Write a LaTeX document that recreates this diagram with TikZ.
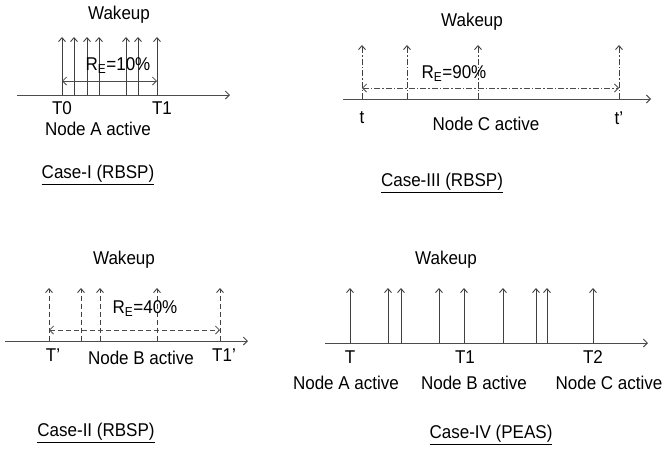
\documentclass[tikz,border=0pt]{standalone}
\usepackage{fontspec}
\setmainfont[FakeStretch=0.92]{Liberation Sans}
\usetikzlibrary{arrows.meta,positioning}

\begin{document}
\begin{tikzpicture}[x=1pt,y=-1pt,
    lbl/.style={font=\fontsize{18.5}{20}\selectfont,inner sep=0pt},
    caselbl/.style={lbl},
    axis/.style={draw=black!70,line width=0.9pt,-{Straight Barb[length=4pt,width=8pt]}},
    wake/.style={draw=black!75,line width=0.9pt,-{Straight Barb[length=4pt,width=7pt]}},
    span/.style={draw=black!70,line width=0.8pt,{Straight Barb[length=4pt,width=8pt]}-{Straight Barb[length=4pt,width=8pt]}},
    dashB/.style={dash pattern=on 5pt off 3pt},
    dashC/.style={dash pattern=on 6pt off 2pt on 1.5pt off 2pt}]
    \useasboundingbox (0,0) rectangle (670,456);

    % Case-I
    \coordinate (axisA-s) at (17,95);
    \coordinate (axisA-e) at (230,95);
    \draw[axis] (axisA-s) -- (axisA-e);
    \foreach \x [count=\i] in {62,74,87,99,126,138,157} {
        \coordinate (wA-\i) at (\x,95);
        \coordinate (wA-\i-top) at (\x,37);
        \draw[wake] (wA-\i) -- (wA-\i-top);
    }
    \coordinate (spanA-s) at (62,81);
    \coordinate (spanA-e) at (157,81);
    \draw[span] (spanA-s) -- (spanA-e);
    \node[lbl] (wakeA) at (119,15) {Wakeup};
    \node[lbl] (reA) at (118,66) {R\textsubscript{E}=10\%};
    \node[lbl] (tA0) at (62,108) {T0};
    \node[lbl] (tA1) at (162,108) {T1};
    \node[lbl] (actA) at (98,129) {Node A active};
    \node[caselbl] (capA) at (98,175) {\underline{Case-I (RBSP)}};

    % Case-III
    \coordinate (axisC-s) at (343,99);
    \coordinate (axisC-e) at (651,99);
    \draw[axis] (axisC-s) -- (axisC-e);
    \foreach \x [count=\i] in {362,407,478,619} {
        \coordinate (wC-\i) at (\x,99);
        \coordinate (wC-\i-top) at (\x,45);
        \draw[wake,dashC] (wC-\i) -- (wC-\i-top);
    }
    \coordinate (spanC-s) at (362,88);
    \coordinate (spanC-e) at (619,88);
    \draw[span,dashC] (spanC-s) -- (spanC-e);
    \node[lbl] (wakeC) at (472,22) {Wakeup};
    \node[lbl] (reC) at (454,74) {R\textsubscript{E}=90\%};
    \node[lbl] (tC0) at (362,118) {t};
    \node[lbl] (tC1) at (619,118) {t’};
    \node[lbl] (actC) at (486,124) {Node C active};
    \node[caselbl] (capC) at (442,183) {\underline{Case-III (RBSP)}};

    % Case-II
    \coordinate (axisB-s) at (5,341);
    \coordinate (axisB-e) at (248,341);
    \draw[axis] (axisB-s) -- (axisB-e);
    \foreach \x [count=\i] in {49,81,100,157,220} {
        \coordinate (wB-\i) at (\x,341);
        \coordinate (wB-\i-top) at (\x,288);
        \draw[wake,dashB] (wB-\i) -- (wB-\i-top);
    }
    \coordinate (spanB-s) at (49,330);
    \coordinate (spanB-e) at (220,330);
    \draw[span,dashB] (spanB-s) -- (spanB-e);
    \node[lbl] (wakeB) at (124,260) {Wakeup};
    \node[lbl] (reB) at (145,309) {R\textsubscript{E}=40\%};
    \node[lbl] (tB0) at (53,355) {T’};
    \node[lbl] (tB1) at (224,355) {T1’};
    \node[lbl] (actB) at (141,358) {Node B active};
    \node[caselbl] (capB) at (96,433) {\underline{Case-II (RBSP)}};

    % Case-IV
    \coordinate (axisD-s) at (325,343);
    \coordinate (axisD-e) at (648,343);
    \draw[axis] (axisD-s) -- (axisD-e);
    \foreach \x [count=\i] in {350,388,401,439,464,503,536,547,593} {
        \coordinate (wD-\i) at (\x,343);
        \coordinate (wD-\i-top) at (\x,288);
        \draw[wake] (wD-\i) -- (wD-\i-top);
    }
    \node[lbl] (wakeD) at (446,260) {Wakeup};
    \node[lbl] (tD0) at (350,357) {T};
    \node[lbl] (tD1) at (465,357) {T1};
    \node[lbl] (tD2) at (593,357) {T2};
    \node[lbl] (actDA) at (346,383) {Node A active};
    \node[lbl] (actDB) at (474,383) {Node B active};
    \node[lbl] (actDC) at (609,383) {Node C active};
    \node[caselbl] (capD) at (491,435) {\underline{Case-IV (PEAS)}};
\end{tikzpicture}
\end{document}
